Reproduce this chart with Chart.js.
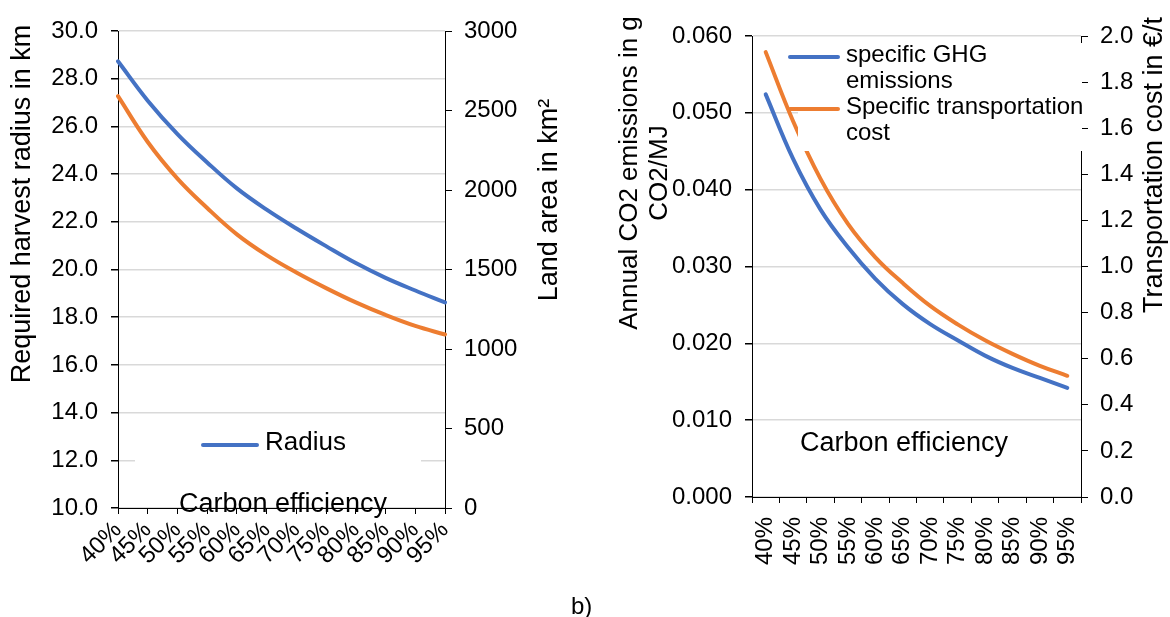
<!DOCTYPE html>
<html>
<head>
<meta charset="utf-8">
<script src="https://cdn.jsdelivr.net/npm/chart.js@4.4.1/dist/chart.umd.min.js"></script>
<style>
  html, body { margin: 0; padding: 0; background: #fff; }
  body { width: 1170px; height: 617px; position: relative; overflow: hidden; font-family: "Liberation Sans", Arial, sans-serif; }
  #left { position: absolute; left: 0; top: 0; }
  #right { position: absolute; left: 590px; top: 0; }
  #caption { position: absolute; left: 571px; top: 592px; font-size: 24px; color: #000; }
</style>
</head>
<body>
<canvas id="left" width="590" height="617"></canvas>
<canvas id="right" width="580" height="617"></canvas>
<div id="caption">b)</div>
<script>
// values
const categories = ["40%", "45%", "50%", "55%", "60%", "65%", "70%", "75%", "80%", "85%", "90%", "95%"];
const radiusKm = [28.73, 27.08, 25.68, 24.49, 23.40, 22.51, 21.72, 20.98, 20.27, 19.65, 19.12, 18.62];
const landAreaKm2 = [2590, 2302, 2072, 1887, 1721, 1590, 1481, 1383, 1293, 1214, 1145, 1091];
const ghgEmissions = [0.0524, 0.0440, 0.0374, 0.0325, 0.0284, 0.0251, 0.0225, 0.0204, 0.0184, 0.0168, 0.0155, 0.0142];
const transportCost = [1.93, 1.63, 1.38, 1.185, 1.04, 0.928, 0.829, 0.749, 0.680, 0.621, 0.569, 0.526];

const FONT = '"Liberation Sans", Arial, sans-serif';
const blue = "#4472c4";
const orange = "#ed7d31";
const gridGrey = "#d9d9d9";

Chart.defaults.font.family = FONT;
Chart.defaults.color = "#000";

// excel-style text boxes: axis titles placed by hand + legend box inside the plot
function overlay(cfg) {
    return {
        id: "overlay",
        afterDraw(chart) {
            const ctx = chart.ctx;
            ctx.save();
            const L = cfg.legend;
            ctx.fillStyle = "#fff";
            ctx.fillRect(L.box[0], L.box[1], L.box[2], L.box[3]);
            ctx.font = L.size + "px " + FONT;
            ctx.textAlign = "left";
            ctx.textBaseline = "middle";
            let y = L.y;
            L.datasets.forEach(i => {
                const ds = chart.data.datasets[i];
                ctx.strokeStyle = ds.borderColor;
                ctx.lineWidth = 4;
                ctx.lineCap = "round";
                ctx.beginPath();
                ctx.moveTo(L.lineX, y + 2);
                ctx.lineTo(L.lineX + L.lineW, y + 2);
                ctx.stroke();
                ctx.fillStyle = "#000";
                ds.label.split("\n").forEach(t => {
                    ctx.fillText(t, L.textX, y);
                    y += L.rowH;
                });
            });
            cfg.titles.forEach(t => {
                ctx.save();
                ctx.translate(t.x, t.y);
                ctx.rotate(t.rot || 0);
                ctx.font = (t.size || 27) + "px " + FONT;
                ctx.fillStyle = "#000";
                ctx.textAlign = "center";
                ctx.textBaseline = "middle";
                ctx.fillText(t.text, 0, 0);
                ctx.restore();
            });
            ctx.restore();
        }
    };
}

const axisTicks = { color: "#000", font: { size: 24 } };

// a) radius / land area
new Chart(document.getElementById("left"), {
    type: "line",
    data: {
        labels: categories,
        datasets: [
            { label: "Radius", data: radiusKm, borderColor: blue, yAxisID: "y" },
            { label: "Land area", data: landAreaKm2, borderColor: orange, yAxisID: "y1" }
        ]
    },
    options: {
        responsive: false,
        animation: false,
        layout: { padding: { top: 31, left: 0, right: 0, bottom: 0 } },
        elements: {
            point: { radius: 0 },
            line: { borderWidth: 4, tension: 0.4, borderCapStyle: "round", fill: false }
        },
        plugins: { legend: { display: false }, tooltip: { enabled: false } },
        scales: {
            x: {
                ticks: { ...axisTicks, minRotation: 45, maxRotation: 45, autoSkip: false, padding: 2 },
                grid: { drawOnChartArea: false, tickLength: 6, tickColor: "#000" },
                border: { color: "#000" },
                afterFit: s => { s.height = 109; }
            },
            y: {
                min: 10, max: 30,
                ticks: { ...axisTicks, stepSize: 2, padding: 13, callback: v => v.toFixed(1) },
                grid: { color: gridGrey, lineWidth: 1.5, tickColor: "#000", tickLength: 7 },
                border: { color: "#000" },
                afterFit: s => { s.width = 118; }
            },
            y1: {
                position: "right",
                min: 0, max: 3000,
                ticks: { ...axisTicks, stepSize: 500, padding: 12, callback: v => String(v) },
                grid: { drawOnChartArea: false, tickColor: "#000", tickLength: 7 },
                border: { color: "#000" },
                afterFit: s => { s.width = 145; }
            }
        }
    },
    plugins: [overlay({
        legend: { box: [135, 424, 286, 44], datasets: [0], size: 26, y: 443, rowH: 28, lineX: 203, lineW: 54, textX: 265 },
        titles: [
            { text: "Required harvest radius in km", x: 23, y: 204, rot: -Math.PI / 2 },
            { text: "Land area in km²", x: 550, y: 200, rot: -Math.PI / 2 },
            { text: "Carbon efficiency", x: 283, y: 505 }
        ]
    })]
});

// b) emissions / transport cost
new Chart(document.getElementById("right"), {
    type: "line",
    data: {
        labels: categories,
        datasets: [
            { label: "specific GHG\nemissions", data: ghgEmissions, borderColor: blue, yAxisID: "y" },
            { label: "Specific transportation\ncost", data: transportCost, borderColor: orange, yAxisID: "y1" }
        ]
    },
    options: {
        responsive: false,
        animation: false,
        layout: { padding: { top: 36, left: 0, right: 0, bottom: 0 } },
        elements: {
            point: { radius: 0 },
            line: { borderWidth: 4, tension: 0.4, borderCapStyle: "round", fill: false }
        },
        plugins: { legend: { display: false }, tooltip: { enabled: false } },
        scales: {
            x: {
                offset: true,
                ticks: { ...axisTicks, minRotation: 90, maxRotation: 90, autoSkip: false, padding: 14 },
                grid: { offset: true, drawOnChartArea: false, tickLength: 6, tickColor: "#000" },
                border: { color: "#000" },
                afterFit: s => { s.height = 120; }
            },
            y: {
                min: 0, max: 0.06,
                ticks: { ...axisTicks, stepSize: 0.01, padding: 13, callback: v => v.toFixed(3) },
                grid: { color: gridGrey, lineWidth: 1.5, tickColor: "#000", tickLength: 7 },
                border: { color: "#000" },
                afterFit: s => { s.width = 162; }
            },
            y1: {
                position: "right",
                min: 0, max: 2,
                ticks: { ...axisTicks, stepSize: 0.2, padding: 12, callback: v => v.toFixed(1) },
                grid: { drawOnChartArea: false, tickColor: "#000", tickLength: 7 },
                border: { color: "#000" },
                afterFit: s => { s.width = 89; }
            }
        }
    },
    plugins: [overlay({
        legend: { box: [208, 43, 284, 108], datasets: [0, 1], size: 24, y: 55, rowH: 26, lineX: 200, lineW: 48, textX: 256 },
        titles: [
            { text: "Annual CO2 emissions in g", x: 40, y: 173, rot: -Math.PI / 2, size: 26 },
            { text: "CO2/MJ", x: 70, y: 173, rot: -Math.PI / 2, size: 26 },
            { text: "Transportation cost in €/t", x: 565, y: 165, rot: -Math.PI / 2 },
            { text: "Carbon efficiency", x: 314, y: 444 }
        ]
    })]
});
</script>
</body>
</html>
